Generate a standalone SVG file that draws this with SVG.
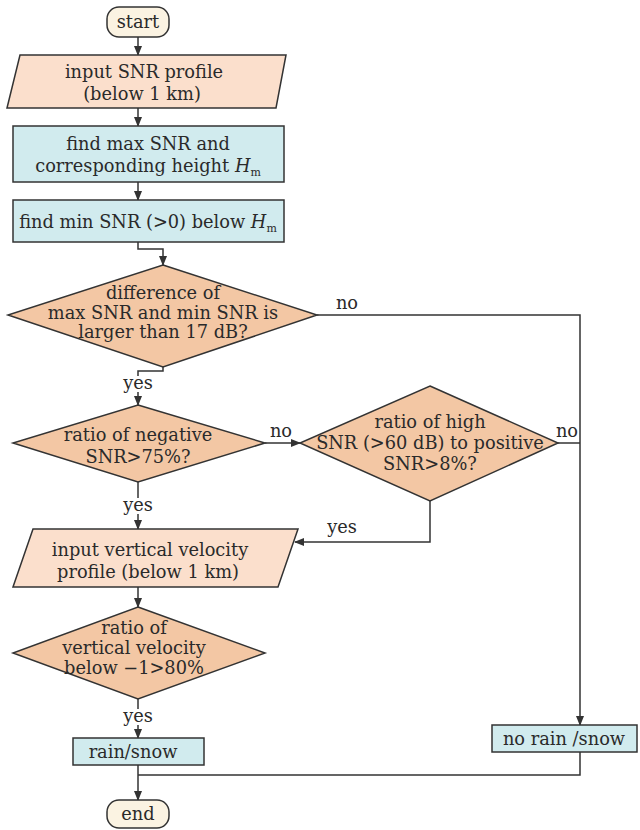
<svg xmlns="http://www.w3.org/2000/svg" width="640" height="830" viewBox="0 0 640 830">
<defs>
<marker id="ah" markerWidth="10" markerHeight="8" refX="9" refY="4" orient="auto" markerUnits="userSpaceOnUse">
<path d="M0,0 L10,4 L0,8 Z" fill="#333"/>
</marker>
<style>
.term{fill:#fbf3e2;stroke:#333;stroke-width:1.5}
.io{fill:#fbdfcc;stroke:#333;stroke-width:1.5}
.dec{fill:#f3c7a4;stroke:#333;stroke-width:1.5}
.proc{fill:#d1ebee;stroke:#333;stroke-width:1.5}
.ln{fill:none;stroke:#333;stroke-width:1.5}
.bg{fill:#fff}
text{font-family:"DejaVu Serif","Liberation Serif",serif;font-size:17.8px;fill:#2a2a2a;text-anchor:middle}
.lb{font-size:17.8px}
</style>
</defs>
<rect width="640" height="830" fill="#fff"/>
<g id="connectors">
<path class="ln" d="M138,37 V55" marker-end="url(#ah)"/>
<path class="ln" d="M138,108 V126" marker-end="url(#ah)"/>
<path class="ln" d="M138,182 V200" marker-end="url(#ah)"/>
<path class="ln" d="M138,242 V249 H163 V265" marker-end="url(#ah)"/>
<path class="ln" d="M163,367 V371 H138 V405" marker-end="url(#ah)"/>
<path class="ln" d="M317,315 H580 V725" marker-end="url(#ah)"/>
<path class="ln" d="M265,443 H300" marker-end="url(#ah)"/>
<path class="ln" d="M558,443 H580"/>
<path class="ln" d="M430,501 V542 H295" marker-end="url(#ah)"/>
<path class="ln" d="M138,482 V529" marker-end="url(#ah)"/>
<path class="ln" d="M138,587 V607" marker-end="url(#ah)"/>
<path class="ln" d="M138,699 V738" marker-end="url(#ah)"/>
<path class="ln" d="M138,765 V800" marker-end="url(#ah)"/>
<path class="ln" d="M580,752 V775 H138"/>
<rect class="bg" x="122" y="376" width="32" height="16"/>
<rect class="bg" x="122" y="498" width="32" height="16"/>
<rect class="bg" x="122" y="709" width="32" height="16"/>
<text class="lb" x="347" y="309">no</text>
<text class="lb" x="138" y="389">yes</text>
<text class="lb" x="281" y="437">no</text>
<text class="lb" x="567" y="437">no</text>
<text class="lb" x="138" y="511">yes</text>
<text class="lb" x="342" y="533">yes</text>
<text class="lb" x="138" y="722">yes</text>
</g>
<g id="start">
<rect class="term" x="107" y="7" width="62" height="30" rx="12"/>
<text x="138" y="28">start</text>
</g>
<g id="input-snr">
<polygon class="io" points="20,55 286,55 276,108 7,108"/>
<text x="144" y="78">input SNR profile</text>
<text x="142" y="100">(below 1 km)</text>
</g>
<g id="find-max">
<rect class="proc" x="13" y="126" width="271" height="56"/>
<text x="148" y="150">find max SNR and</text>
<text x="148" y="172">corresponding height <tspan font-style="italic">H</tspan><tspan font-size="11" dy="4">m</tspan></text>
</g>
<g id="find-min">
<rect class="proc" x="13" y="200" width="271" height="42"/>
<text x="148" y="228">find min SNR (&gt;0) below <tspan font-style="italic">H</tspan><tspan font-size="11" dy="4">m</tspan></text>
</g>
<g id="diff">
<polygon class="dec" points="163,265 317,315 163,367 8,315"/>
<text x="163" y="299">difference of</text>
<text x="163" y="319">max SNR and min SNR is</text>
<text x="163" y="338">larger than 17 dB?</text>
</g>
<g id="neg">
<polygon class="dec" points="138,405 265,443 138,482 13,443"/>
<text x="138" y="441">ratio of negative</text>
<text x="138" y="463">SNR&gt;75%?</text>
</g>
<g id="high">
<polygon class="dec" points="430,386 558,443 430,501 300,443"/>
<text x="430" y="428">ratio of high</text>
<text x="430" y="449">SNR (&gt;60 dB) to positive</text>
<text x="430" y="470">SNR&gt;8%?</text>
</g>
<g id="input-vel">
<polygon class="io" points="33,529 298,529 278,587 13,587"/>
<text x="150" y="556">input vertical velocity</text>
<text x="148" y="578">profile (below 1 km)</text>
</g>
<g id="vel">
<polygon class="dec" points="138,607 265,653 138,699 13,653"/>
<text x="134" y="634">ratio of</text>
<text x="134" y="654">vertical velocity</text>
<text x="134" y="674">below −1&gt;80%</text>
</g>
<g id="rain">
<rect class="proc" x="73" y="738" width="131" height="27"/>
<text x="133" y="758">rain/snow</text>
</g>
<g id="norain">
<rect class="proc" x="492" y="725" width="145" height="27"/>
<text x="564" y="745">no rain /snow</text>
</g>
<g id="end">
<rect class="term" x="107" y="800" width="62" height="28" rx="12"/>
<text x="138" y="820">end</text>
</g>
</svg>
